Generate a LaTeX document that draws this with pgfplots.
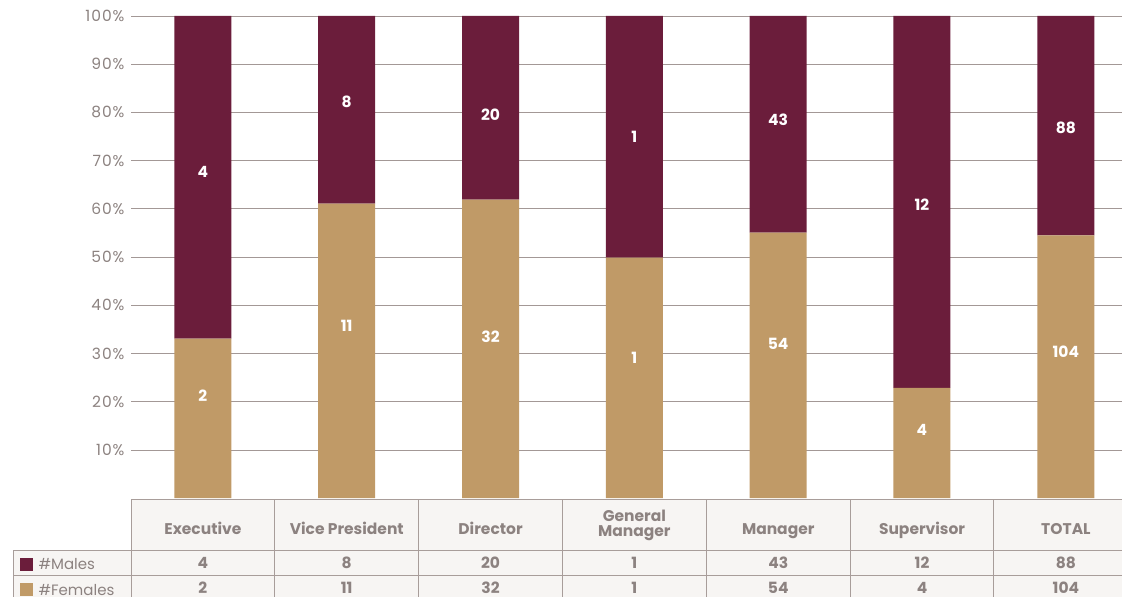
\documentclass[border=0pt]{standalone}
\usepackage{pgfplots}
\pgfplotsset{compat=1.18}
\usepackage{fontspec}
\setmainfont{Poppins}
\newfontfamily\tickfont[LetterSpace=6]{Poppins}
\definecolor{maroon}{HTML}{6B1D3B}
\definecolor{tan}{HTML}{C09A67}
\definecolor{gridc}{HTML}{A39896}
\definecolor{textc}{HTML}{8C8280}
\definecolor{tblbg}{HTML}{F7F5F3}
\definecolor{tblline}{HTML}{A89D9A}
\begin{document}
\begin{tikzpicture}[x=1pt,y=1pt]
\useasboundingbox (0,0) rectangle (1122,597);
\pgfplotsset{
  base/.style={
    at={(131pt,98.8pt)}, anchor=south west,
    scale only axis, width=1006.8pt, height=482.2pt,
    xmin=-0.5, xmax=6.5, ymin=0, ymax=100,
  }
}
\begin{axis}[base,
  ybar stacked, bar width=57pt,
  axis line style={draw=none},
  tick style={draw=none},
  xtick=\empty,
  ytick={10,20,...,100},
  yticklabels={10\%,20\%,30\%,40\%,50\%,60\%,70\%,80\%,90\%,100\%},
  yticklabel style={font=\tickfont\fontsize{15.5}{17}\selectfont, text=textc, xshift=-3pt},
  ymajorgrids, grid style={draw=gridc, line width=0.9pt},
]
% Females (share, %)
\addplot+[fill=tan, draw=none] coordinates {(0,33.1) (1,61.1) (2,61.9) (3,49.9) (4,55.1) (5,22.9) (6,54.5)};
% Males (share, %)
\addplot+[fill=maroon, draw=none] coordinates {(0,66.9) (1,38.9) (2,38.1) (3,50.1) (4,44.9) (5,77.1) (6,45.5)};
\end{axis}
\begin{axis}[base, hide axis]
\addplot[only marks, mark=none, nodes near coords, point meta=explicit symbolic,
  nodes near coords style={anchor=center, text=white, font=\bfseries\fontsize{15.5}{17}\selectfont}]
  table[meta=label] {
x y label
0 67.7 4
1 82.3 8
2 79.6 20
3 75.0 1
4 78.5 43
5 60.9 12
6 76.9 88
0 21.3 2
1 35.8 11
2 33.5 32
3 29.1 1
4 32.1 54
5 14.2 4
6 30.4 104
};
\end{axis}
% data table below the chart
\fill[tblbg] (131,0) rectangle (1140,97);
\fill[tblbg] (13,0) rectangle (131,46);
\draw[tblline, line width=1pt] (131,97) -- (1140,97);
\draw[tblline, line width=1pt] (13,46) -- (1140,46);
\draw[tblline, line width=1pt] (13,21) -- (1140,21);
\draw[tblline, line width=1pt] (13,0) -- (13,46);
\foreach \k in {0,...,7} {
  \draw[tblline, line width=1pt] ({131+143.83*\k},0) -- ({131+143.83*\k},97);
}
\foreach \name [count=\i from 0] in {Executive,Vice President,Director,,Manager,Supervisor,TOTAL} {
  \node[anchor=base, text=textc, font=\bfseries\fontsize{15.5}{17}\selectfont] at ({131+143.83*(\i+0.5)},62) {\name};
}
\node[anchor=base, text=textc, font=\bfseries\fontsize{15.5}{17}\selectfont] at ({131+143.83*3.5},75.5) {General};
\node[anchor=base, text=textc, font=\bfseries\fontsize{15.5}{17}\selectfont] at ({131+143.83*3.5},60.5) {Manager};
\foreach \m/\f [count=\i from 0] in {4/2,8/11,20/32,1/1,43/54,12/4,88/104} {
  \node[anchor=base, text=textc, font=\bfseries\fontsize{15.5}{17}\selectfont] at ({131+143.83*(\i+0.5)},28.5) {\m};
  \node[anchor=base, text=textc, font=\bfseries\fontsize{15.5}{17}\selectfont] at ({131+143.83*(\i+0.5)},3.5) {\f};
}
\fill[maroon] (20,26) rectangle (33,39);
\fill[tan] (20,1) rectangle (33,14);
\node[anchor=base west, text=textc, font=\fontsize{15}{17}\selectfont] at (35,27.5) {\#Males};
\node[anchor=base west, text=textc, font=\fontsize{15}{17}\selectfont] at (35,1.5) {\#Females};
\end{tikzpicture}
\end{document}
